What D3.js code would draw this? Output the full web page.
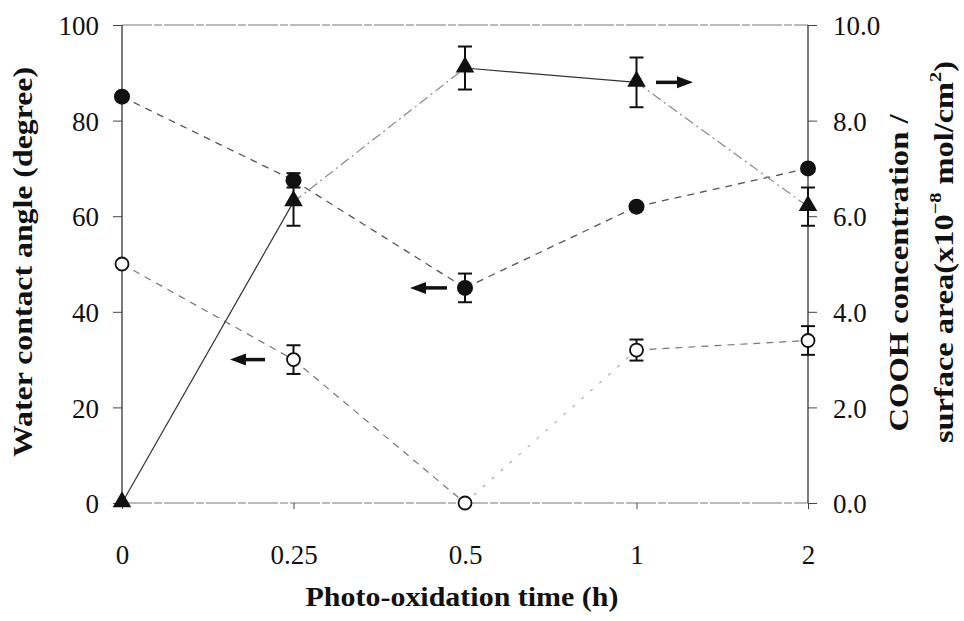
<!DOCTYPE html>
<html><head><meta charset="utf-8">
<script src="https://cdn.jsdelivr.net/npm/d3@7"></script>
<style>body{margin:0;background:#fff}svg{display:block}text{font-family:"Liberation Serif","Times New Roman",serif;fill:#111}</style>
</head><body>
<svg id="c" width="964" height="621"></svg>
<script>
const categories = ["0","0.25","0.5","1","2"];
const angleFilled = [85, 67.5, 45, 62, 70];
const angleFilledErr = [0, 1.5, 3, 0, 0];
const angleOpen = [50, 30, 0, 32, 34];
const angleOpenErr = [0, 3, 0, 2.2, 3];
const cooh = [0, 6.3, 9.1, 8.8, 6.2];
const coohErr = [0, 0.5, 0.45, 0.52, 0.4];
const leftTicks = [0, 20, 40, 60, 80, 100];
const rightTicks = [0, 2, 4, 6, 8, 10];

const svg = d3.select("#c");
const L = 122, R = 808, T = 25, B = 503;
const x = d3.scalePoint().domain(categories).range([L, R]);
const yL = d3.scaleLinear().domain([0, 100]).range([B, T]);
const yR = d3.scaleLinear().domain([0, 10]).range([B, T]);

// frame
svg.append("line").attr("x1", L).attr("x2", R).attr("y1", T).attr("y2", T).attr("stroke", "#777").attr("stroke-width", 1.2).attr("stroke-dasharray", "30,2,8,2");
svg.append("line").attr("x1", L).attr("x2", R).attr("y1", B).attr("y2", B).attr("stroke", "#777").attr("stroke-width", 1.2).attr("stroke-dasharray", "30,2,8,2");

// axes
const gL = svg.append("g").attr("transform", `translate(${L},0)`)
  .call(d3.axisLeft(yL).tickValues(leftTicks).tickSize(9).tickPadding(14).tickFormat(d3.format("d")));
const gR = svg.append("g").attr("transform", `translate(${R},0)`)
  .call(d3.axisRight(yR).tickValues(rightTicks).tickSize(9).tickPadding(16).tickFormat(d3.format(".1f")));
const gX = svg.append("g").attr("transform", `translate(0,${B})`)
  .call(d3.axisBottom(x).tickSize(6).tickPadding(36));
[gL, gR, gX].forEach(g => {
  g.selectAll("text").style("font-size", "27px").attr("fill", "#111");
  g.selectAll("line").attr("stroke", "#444");
  g.select(".domain").attr("stroke", "#333").attr("stroke-width", 1.3);
});
gX.select(".domain").remove();
gL.select(".domain").attr("d", `M0,${T}V${B}`);
gR.select(".domain").attr("d", `M0,${T}V${B}`);
gL.selectAll(".tick text").attr("dy", "0.36em");
gR.selectAll(".tick text").attr("dy", "0.36em");

// lines
function seg(vals, yScale, styles) {
  for (let i = 0; i < vals.length - 1; i++) {
    const s = styles[i];
    svg.append("line")
      .attr("x1", x(categories[i])).attr("y1", yScale(vals[i]))
      .attr("x2", x(categories[i + 1])).attr("y2", yScale(vals[i + 1]))
      .attr("stroke", s.c).attr("stroke-width", s.w).attr("stroke-dasharray", s.d);
  }
}
const dash = {c: "#555", w: 1.3, d: "7,6"};
const dashL = {c: "#777", w: 1.2, d: "7,6"};
const dotL = {c: "#aaa", w: 1.2, d: "3,9"};
const solid = {c: "#333", w: 1.2, d: null};
const dashdot = {c: "#888", w: 1.2, d: "10,4,2,4"};
seg(angleFilled, yL, [dash, dash, dash, dash]);
seg(angleOpen, yL, [dashL, dashL, dotL, dashL]);
seg(cooh, yR, [solid, dashdot, solid, dashdot]);

// error bars
function errs(vals, e, yScale) {
  vals.forEach((v, i) => {
    if (!e[i]) return;
    const cx = x(categories[i]);
    const g = svg.append("g").attr("stroke", "#111").attr("stroke-width", 2);
    g.append("line").attr("x1", cx).attr("x2", cx).attr("y1", yScale(v - e[i])).attr("y2", yScale(v + e[i]));
    [v - e[i], v + e[i]].forEach(t => g.append("line").attr("x1", cx - 7).attr("x2", cx + 7).attr("y1", yScale(t)).attr("y2", yScale(t)));
  });
}
errs(angleFilled, angleFilledErr, yL);
errs(angleOpen, angleOpenErr, yL);
errs(cooh, coohErr, yR);

// markers
svg.append("g").selectAll("circle").data(angleFilled).join("circle")
  .attr("cx", (d, i) => x(categories[i])).attr("cy", d => yL(d)).attr("r", 8).attr("fill", "#111");
svg.append("g").selectAll("circle").data(angleOpen).join("circle")
  .attr("cx", (d, i) => x(categories[i])).attr("cy", d => yL(d)).attr("r", 6.5).attr("fill", "#fff").attr("stroke", "#111").attr("stroke-width", 1.8);
const tri = d3.symbol().type(d3.symbolTriangle).size(150);
svg.append("g").selectAll("path").data(cooh).join("path")
  .attr("d", tri).attr("fill", "#111")
  .attr("transform", (d, i) => `translate(${x(categories[i])},${yR(d) - 1})`);

// arrows
function arrow(x1, x2, y) {
  const dir = Math.sign(x2 - x1);
  svg.append("line").attr("x1", x1).attr("x2", x2 - dir * 12).attr("y1", y).attr("y2", y).attr("stroke", "#111").attr("stroke-width", 3.5);
  svg.append("path").attr("d", `M${x2},${y}L${x2 - dir * 16},${y - 6}L${x2 - dir * 16},${y + 6}Z`).attr("fill", "#111");
}
arrow(265, 230, yL(30));
arrow(447, 410, yL(45));
arrow(656, 693, yR(8.8) + 0);

// titles
svg.append("text").attr("x", 462).attr("y", 606).attr("text-anchor", "middle")
  .attr("textLength", 313).attr("lengthAdjust", "spacingAndGlyphs")
  .style("font-size", "28px").style("font-weight", "bold").text("Photo-oxidation time (h)");
svg.append("text").attr("transform", "translate(32,262) rotate(-90)").attr("text-anchor", "middle")
  .attr("textLength", 390).attr("lengthAdjust", "spacingAndGlyphs")
  .style("font-size", "28px").style("font-weight", "bold").text("Water contact angle (degree)");
svg.append("text").attr("transform", "translate(908,273) rotate(-90)").attr("text-anchor", "middle")
  .attr("textLength", 317).attr("lengthAdjust", "spacingAndGlyphs")
  .style("font-size", "27px").style("font-weight", "bold").text("COOH concentration /");
const t2 = svg.append("text").attr("transform", "translate(953,252) rotate(-90) scale(1.2,1)").attr("text-anchor", "middle")
  .style("font-size", "27px").style("font-weight", "bold");
t2.append("tspan").text("surface area(x10");
t2.append("tspan").attr("dy", -12).style("font-size", "17px").text("−8");
t2.append("tspan").attr("dy", 12).text(" mol/cm");
t2.append("tspan").attr("dy", -12).style("font-size", "17px").text("2");
t2.append("tspan").attr("dy", 12).text(")");
</script>
</body></html>
